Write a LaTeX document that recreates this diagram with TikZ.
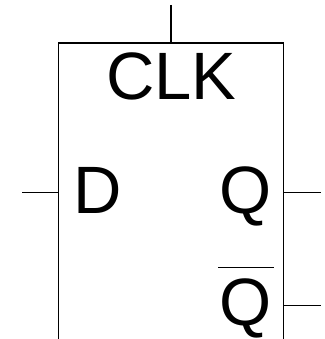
\documentclass[tikz,border=0pt]{standalone}
\usepackage{fontspec}
\setmainfont{Liberation Sans}
\begin{document}
\begin{tikzpicture}[
         x=1pt, y=-1pt,
         pin/.style={line width=1.3pt},
         outline/.style={line width=1.6pt, line join=miter},
         symbol/.style={font=\fontsize{67}{67}\selectfont, anchor=base, inner sep=0pt}
      ]
         \useasboundingbox (0,0) rectangle (324,339);

         % Nodes for labels
         \node[symbol] (clk) at (171.5,100) {CLK};
         \node[symbol] (d) at (97.5,213) {D};
         \node[symbol] (q) at (245.5,213) {Q};
         \node[symbol] (qn) at (245.5,325) {Q};

         % Corners and pin ends
         \coordinate (bl) at (58.5,339);
         \coordinate (tl) at (58.5,43);
         \coordinate (tr) at (283.5,43);
         \coordinate (br) at (283.5,339);
         \coordinate (clktop) at (171,5);
         \coordinate (clkin) at (171,43);
         \coordinate (dout) at (22,192.5);
         \coordinate (din) at (58.5,192.5);
         \coordinate (qin) at (283.5,192.5);
         \coordinate (qout) at (321,192.5);
         \coordinate (qnin) at (283.5,305.5);
         \coordinate (qnout) at (321,305.5);
         \coordinate (barl) at (218,267.5);
         \coordinate (barr) at (273.5,267.5);

         % Box, open at the bottom
         \draw[outline] (bl) -- (tl) -- (tr) -- (br);

         % Pins
         \draw[pin] (clktop) -- (clkin);
         \draw[pin] (dout) -- (din);
         \draw[pin] (qin) -- (qout);
         \draw[pin] (qnin) -- (qnout);
         \draw[pin] (barl) -- (barr);
      \end{tikzpicture}
\end{document}
